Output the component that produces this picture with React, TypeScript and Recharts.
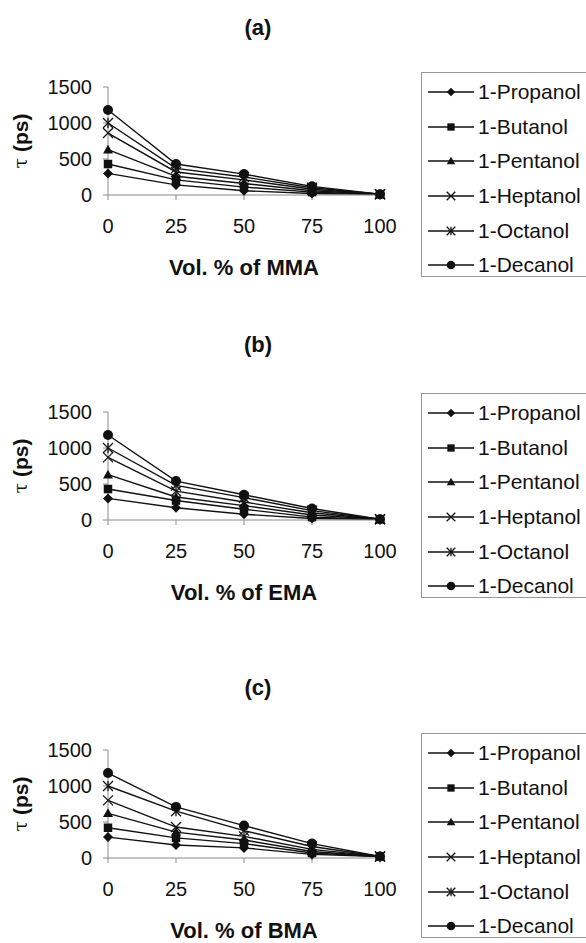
import React from 'react';
import { LineChart, Line, XAxis, YAxis, Label } from 'recharts';

// x positions (vol. % of methacrylate) and y ticks
const volPct = [0, 25, 50, 75, 100];
const yTicks = [0, 500, 1000, 1500];

// series names + their marker, same order in every panel
const alcohols = ['1-Propanol', '1-Butanol', '1-Pentanol', '1-Heptanol', '1-Octanol', '1-Decanol'];
const markerShapes = ['diamond', 'square', 'triangle', 'cross', 'star', 'circle'];

// tau (ps), one row per alcohol
const tauMMA = [
  [300, 140, 60, 20, 10],
  [430, 210, 110, 40, 10],
  [630, 260, 160, 60, 10],
  [860, 320, 210, 80, 10],
  [1000, 370, 250, 100, 10],
  [1180, 430, 290, 120, 10],
];
const tauEMA = [
  [300, 170, 80, 20, 10],
  [430, 270, 150, 40, 10],
  [630, 320, 200, 70, 10],
  [870, 400, 250, 100, 10],
  [1000, 480, 310, 130, 10],
  [1180, 540, 350, 160, 10],
];
const tauBMA = [
  [290, 180, 140, 50, 20],
  [420, 280, 200, 70, 20],
  [620, 360, 250, 90, 20],
  [800, 430, 300, 120, 20],
  [1000, 650, 380, 160, 20],
  [1180, 710, 450, 200, 20],
];

const panels = [
  { title: '(a)', monomer: 'MMA', tau: tauMMA, plotTop: 87, titleY: 28, legendTop: 72 },
  { title: '(b)', monomer: 'EMA', tau: tauEMA, plotTop: 412, titleY: 345, legendTop: 393 },
  { title: '(c)', monomer: 'BMA', tau: tauBMA, plotTop: 750, titleY: 688, legendTop: 733 },
];

const INK = '#111';
const AXIS = '#8a8a8a';
const FONT = '"Liberation Sans", Arial, sans-serif';

function Marker({ shape, cx, cy, r }: { shape: string; cx: number; cy: number; r: number }) {
  switch (shape) {
    case 'diamond':
      return <polygon points={`${cx},${cy - r} ${cx + r},${cy} ${cx},${cy + r} ${cx - r},${cy}`} fill={INK} />;
    case 'square':
      return <rect x={cx - r * 0.85} y={cy - r * 0.85} width={r * 1.7} height={r * 1.7} fill={INK} />;
    case 'triangle':
      return <polygon points={`${cx},${cy - r} ${cx + r},${cy + r * 0.75} ${cx - r},${cy + r * 0.75}`} fill={INK} />;
    case 'cross':
      return (
        <g stroke={INK} strokeWidth={1.3}>
          <line x1={cx - r} y1={cy - r} x2={cx + r} y2={cy + r} />
          <line x1={cx - r} y1={cy + r} x2={cx + r} y2={cy - r} />
        </g>
      );
    case 'star':
      return (
        <g stroke={INK} strokeWidth={1.3}>
          <line x1={cx - r} y1={cy - r} x2={cx + r} y2={cy + r} />
          <line x1={cx - r} y1={cy + r} x2={cx + r} y2={cy - r} />
          <line x1={cx} y1={cy - r} x2={cx} y2={cy + r} />
        </g>
      );
    default:
      return <circle cx={cx} cy={cy} r={r} fill={INK} />;
  }
}

function Panel({ p }: { p: (typeof panels)[number] }) {
  const data = volPct.map((v, i) => {
    const row: Record<string, number> = { vol: v };
    p.tau.forEach((s, k) => (row[`s${k}`] = s[i]));
    return row;
  });
  const marginTop = 20;

  return (
    <>
      <div
        style={{
          position: 'absolute', left: 208, width: 100, top: p.titleY - 12, textAlign: 'center',
          fontFamily: FONT, fontWeight: 'bold', fontSize: 22, lineHeight: '24px', color: INK,
        }}
      >
        {p.title}
      </div>
      <div style={{ position: 'absolute', left: 0, top: p.plotTop - marginTop }}>
        <LineChart width={586} height={213} data={data} margin={{ top: marginTop, right: 206, bottom: 0, left: 0 }}>
          <XAxis
            dataKey="vol"
            type="number"
            domain={[0, 100]}
            ticks={volPct}
            height={85}
            stroke={AXIS}
            tickSize={5}
            tickMargin={19}
            tick={{ fill: INK, fontSize: 20, fontFamily: FONT }}
          >
            <Label
              value={`Vol. % of ${p.monomer}`}
              position="insideBottom"
              offset={5}
              style={{ fill: INK, fontSize: 22, fontWeight: 'bold', fontFamily: FONT }}
            />
          </XAxis>
          <YAxis
            type="number"
            domain={[0, 1500]}
            ticks={yTicks}
            width={108}
            stroke={AXIS}
            tickSize={5}
            tickMargin={11}
            tick={{ fill: INK, fontSize: 20, fontFamily: FONT }}
            label={{
              content: (lp: any) => {
                const vb = lp.viewBox || { x: 0, y: 0, height: 0 };
                const cx = 20;
                const cy = vb.y + vb.height / 2;
                return (
                  <text
                    x={cx}
                    y={cy}
                    transform={`rotate(-90 ${cx} ${cy})`}
                    textAnchor="middle"
                    dominantBaseline="central"
                    fill={INK}
                    fontSize={21}
                    fontFamily={FONT}
                  >
                    <tspan fontFamily='"DejaVu Serif", serif' fontSize={19}>τ</tspan>
                    <tspan fontWeight="bold"> (ps)</tspan>
                  </text>
                );
              },
            }}
          />
          {alcohols.map((name, k) => (
            <Line
              key={name}
              name={name}
              dataKey={`s${k}`}
              type="linear"
              stroke={INK}
              strokeWidth={1.4}
              isAnimationActive={false}
              activeDot={false}
              dot={(dp: any) => (
                <Marker key={`${name}-${dp.index}`} shape={markerShapes[k]} cx={dp.cx} cy={dp.cy} r={5} />
              )}
            />
          ))}
        </LineChart>
      </div>
      <div
        style={{
          position: 'absolute', left: 421, top: p.legendTop, width: 200, height: 205,
          border: '1px solid #999', boxSizing: 'border-box', paddingTop: 2,
          fontFamily: FONT, fontSize: 21, color: INK,
        }}
      >
        {alcohols.map((name, k) => (
          <div key={name} style={{ height: 34.6, display: 'flex', alignItems: 'center' }}>
            <svg width={50} height={20} style={{ marginLeft: 6, flex: 'none' }}>
              <line x1={0} y1={10} x2={46} y2={10} stroke={INK} strokeWidth={1.4} />
              <Marker shape={markerShapes[k]} cx={23} cy={10} r={4.3} />
            </svg>
            <span style={{ whiteSpace: 'nowrap' }}>{name}</span>
          </div>
        ))}
      </div>
    </>
  );
}

export default function App() {
  return (
    <div
      style={{
        position: 'absolute', left: 0, top: 0, width: 586, height: 943,
        overflow: 'hidden', background: '#fff',
      }}
    >
      {panels.map((p) => (
        <Panel key={p.title} p={p} />
      ))}
    </div>
  );
}
